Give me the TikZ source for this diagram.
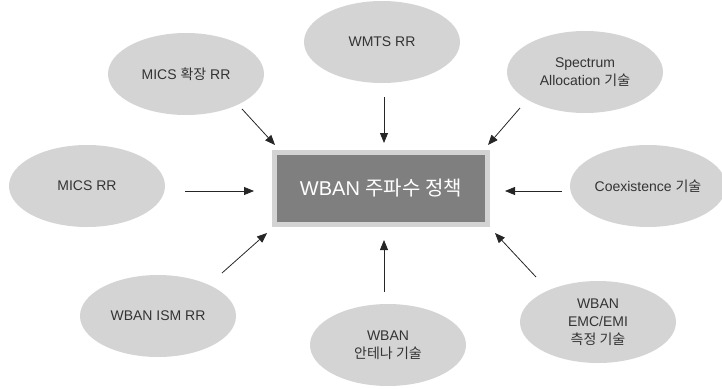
\documentclass[tikz,border=0pt]{standalone}
\usepackage{fontspec}
\setmainfont{Liberation Sans}
\newfontfamily\krfont{Noto Sans CJK KR}
\newcommand\hg[1]{{\krfont #1}}
\usetikzlibrary{shapes.geometric,arrows.meta}
\definecolor{bubble}{HTML}{D4D4D4}
\definecolor{core}{HTML}{7F7F7F}
\definecolor{rim}{HTML}{D3D3D3}
\definecolor{ink}{HTML}{333333}
\tikzset{
  bubble/.style={ellipse, fill=bubble, minimum width=156pt, minimum height=82pt,
    inner sep=0pt, align=center, text=ink, font=\fontsize{14}{18}\selectfont},
  corebox/.style={rectangle, fill=core, draw=rim, line width=5pt,
    minimum width=213pt, minimum height=72pt, text=white,
    font=\fontsize{20}{24}\selectfont},
  feed/.style={draw=black!85, line width=0.8pt, -{Triangle[length=10pt,width=8pt]}}
}
\begin{document}
\begin{tikzpicture}[x=1pt,y=-1pt]
\useasboundingbox (0,0) rectangle (722,388);

% central policy box
\node[corebox] (policy) at (381,188.5) {WBAN \hg{주파수 정책}};

% surrounding topics
\node[bubble] (micsx) at (186,74)  {MICS \hg{확장} RR};
\node[bubble] (wmts)  at (382,42)  {WMTS RR};
\node[bubble] (spec)  at (585,72)  {Spectrum\\Allocation \hg{기술}};
\node[bubble] (mics)  at (87,186)  {MICS RR};
\node[bubble] (coex)  at (648,186) {Coexistence \hg{기술}};
\node[bubble] (ism)   at (158,316) {WBAN ISM RR};
\node[bubble] (ant)   at (388,345) {WBAN\\\hg{안테나 기술}};
\node[bubble] (emc)   at (598,322) {WBAN\\EMC/EMI\\\hg{측정 기술}};

% arrow end points, kept clear of the shapes
\coordinate (micsxS) at (242,109); \coordinate (micsxT) at (275,145);
\coordinate (wmtsS)  at (384,97);  \coordinate (wmtsT)  at (384,143);
\coordinate (specS)  at (520,108); \coordinate (specT)  at (488,145);
\coordinate (micsS)  at (185,191); \coordinate (micsT)  at (254,191);
\coordinate (coexS)  at (562,191); \coordinate (coexT)  at (505,191);
\coordinate (ismS)   at (222,273); \coordinate (ismT)   at (267,233);
\coordinate (antS)   at (384,292); \coordinate (antT)   at (384,240);
\coordinate (emcS)   at (536,277); \coordinate (emcT)   at (495,233);

\foreach \n in {micsx,wmts,spec,mics,coex,ism,ant,emc}
  \draw[feed] (\n S) -- (\n T);
\end{tikzpicture}
\end{document}
